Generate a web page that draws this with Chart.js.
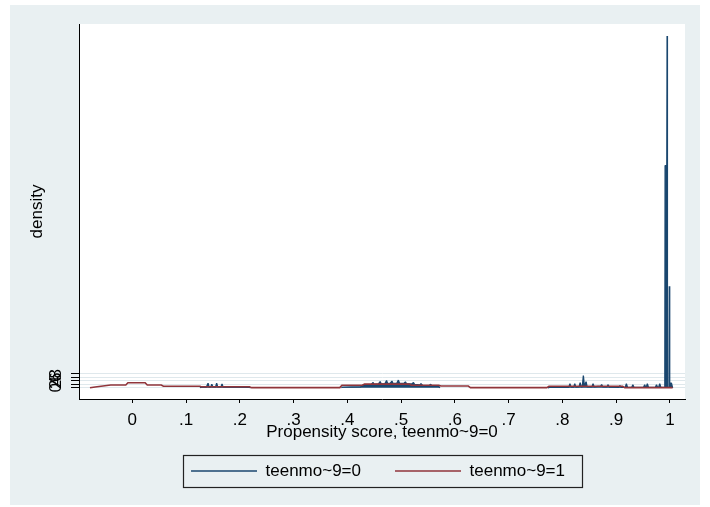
<!DOCTYPE html>
<html>
<head>
<meta charset="utf-8">
<script src="https://cdn.jsdelivr.net/npm/chart.js@4.4.1/dist/chart.umd.min.js"></script>
<style>
  html, body { margin: 0; padding: 0; background: #ffffff; }
  #wrap { width: 710px; height: 507px; position: relative; }
</style>
</head>
<body>
<div id="wrap"><canvas id="c" width="710" height="507"></canvas></div>
<script>
// Series names and axis tick definitions
const seriesNames = ['teenmo~9=0', 'teenmo~9=1'];
const xTickValues = [0, 0.1, 0.2, 0.3, 0.4, 0.5, 0.6, 0.7, 0.8, 0.9, 1];
const xTickLabels = ['0', '.1', '.2', '.3', '.4', '.5', '.6', '.7', '.8', '.9', '1'];
const yTickValues = [0, 2, 4, 6, 8];
const yTickLabels = ['0', '2', '4', '6', '8'];

// Density of the propensity score, teenmo~9=0 group (null = break in the curve)
const blueX = [
  0.126, 0.128, 0.138, 0.141, 0.143, 0.146, 0.148, 0.150, 0.155, 0.157, 0.159, 0.165, 0.167, 0.169, 0.190, 0.218, 0.220,
  0.300,
  0.389, 0.391, 0.425, 0.430, 0.445, 0.448, 0.450, 0.458, 0.461, 0.463, 0.470, 0.473, 0.475, 0.480, 0.483, 0.485,
  0.492, 0.495, 0.497, 0.505, 0.508, 0.510, 0.520, 0.523, 0.525, 0.535, 0.537, 0.540, 0.552, 0.555, 0.557, 0.570, 0.572,
  0.670,
  0.773, 0.776, 0.812, 0.814, 0.816, 0.821, 0.823, 0.825, 0.831, 0.833, 0.835, 0.837, 0.839, 0.841, 0.842, 0.844,
  0.846, 0.855, 0.857, 0.859, 0.866, 0.871, 0.873, 0.875, 0.883, 0.885, 0.887, 0.905, 0.907, 0.909, 0.917, 0.919,
  0.921, 0.929, 0.931, 0.933, 0.951, 0.953, 0.955, 0.956, 0.958, 0.960, 0.973, 0.975, 0.977, 0.979, 0.981, 0.983,
  0.9905, 0.9910, 0.9942, 0.9947, 0.9953, 0.9982, 0.9988, 0.9994, 0.9997, 1.0028, 1.0050
];
const blueY = [
  0, 0.4, 0.4, 2.6, 0.4, 0.5, 2.1, 0.5, 0.5, 2.7, 0.5, 0.5, 2.2, 0.4, 0.4, 0.3, 0,
  null,
  0, 0.4, 0.6, 1.8, 2.0, 3.0, 2.0, 2.2, 3.6, 2.3, 2.4, 4.2, 2.4, 2.6, 3.8, 2.5,
  2.6, 4.4, 2.6, 2.5, 3.4, 2.4, 2.2, 3.0, 2.0, 1.6, 2.4, 1.4, 1.2, 2.0, 1.2, 1.0, 0,
  null,
  0, 0.3, 0.3, 2.3, 0.4, 0.4, 2.3, 0.4, 0.5, 3.0, 0.6, 0.6, 7.0, 0.6, 0.6, 3.5,
  0.5, 0.5, 2.3, 0.5, 0.8, 0.8, 1.8, 0.6, 0.5, 1.8, 0.4, 0.3, 1.2, 0.3, 0.3, 2.3,
  0.3, 0.3, 1.8, 0.3, 0.3, 1.8, 0.3, 0.3, 2.3, 0.3, 0.3, 1.8, 0.3, 0.3, 2.3, 0.3,
  0.3, 127, 127, 201, 0.3, 0.3, 58, 0.3, 2.6, 2.6, 0
];

// Density of the propensity score, teenmo~9=1 group
const redX = [
  -0.0786, -0.069, -0.040, -0.012, -0.008, 0.024, 0.028, 0.054, 0.058, 0.126, 0.128, 0.218, 0.222,
  0.386, 0.390, 0.428, 0.432, 0.515, 0.519, 0.570, 0.574, 0.625, 0.629, 0.771, 0.775, 0.912, 0.916, 1.005
];
const redY = [
  0, 0.5, 1.6, 1.6, 2.9, 2.9, 1.6, 1.6, 0.9, 0.9, 0.6, 0.6, 0.1,
  0.1, 1.5, 1.5, 2.1, 2.1, 1.5, 1.5, 1.0, 1.0, 0.1, 0.1, 0.9, 0.9, 0.1, 0.1
];

const NAVY = '#1a476f';
const MAROON = '#90353b';
const FONT = '"Liberation Sans", Arial, Helvetica, sans-serif';
const PANEL = '#e9f0f2';
const LEGEND_ROW_Y = 471;

Chart.defaults.font.family = FONT;
Chart.defaults.font.size = 17;
Chart.defaults.color = '#000';

const toPoints = (xs, ys) => xs.map((x, i) => ({ x: x, y: ys[i] }));
const labelFor = (vals, labels) => (v) => {
  const i = vals.findIndex(t => Math.abs(t - v) < 1e-9);
  return i >= 0 ? labels[i] : '';
};

// Graph region, plot region and the framed legend
const stataLook = {
  id: 'stataLook',
  beforeDraw(chart) {
    const { ctx, chartArea: ca } = chart;
    ctx.save();
    ctx.fillStyle = '#ffffff';
    ctx.fillRect(0, 0, chart.width, chart.height);
    ctx.fillStyle = PANEL;
    ctx.fillRect(10, 5, chart.width - 20, chart.height - 7);
    ctx.fillStyle = '#ffffff';
    ctx.fillRect(ca.left, ca.top, ca.right - ca.left, ca.bottom - ca.top);
    ctx.restore();
  },
  afterLayout(chart) {
    const lg = chart.legend;
    const ca = chart.chartArea;
    const p = lg.options.labels.padding;
    const fs = lg.options.labels.font.size;
    const h = lg.height;
    lg.left = ca.left - 8;
    lg.right = ca.right;
    lg.top = LEGEND_ROW_Y - p - fs / 2;
    lg.bottom = lg.top + h;
  },
  afterDraw(chart) {
    const lg = chart.legend;
    const p = lg.options.labels.padding;
    const fs = lg.options.labels.font.size;
    const lw = lg.lineWidths[0];
    const startX = (lg.left + p + lg.right - lw) / 2;
    const itemTop = lg.top + p;
    const { ctx } = chart;
    ctx.save();
    ctx.strokeStyle = '#222';
    ctx.lineWidth = 1.2;
    ctx.strokeRect(Math.round(startX - 8) + 0.5, Math.round(itemTop - 7.5) + 0.5,
                   Math.round(lw - p + 25), Math.round(fs + 15));
    ctx.restore();
  }
};

new Chart(document.getElementById('c'), {
  type: 'line',
  data: {
    datasets: [
      {
        label: seriesNames[0],
        data: toPoints(blueX, blueY),
        borderColor: NAVY,
        backgroundColor: NAVY,
        pointBorderColor: NAVY,
        pointBorderWidth: 1.5,
        borderWidth: 1.3,
        borderJoinStyle: 'bevel',
        fill: 'origin',
        spanGaps: false,
        order: 1
      },
      {
        label: seriesNames[1],
        data: toPoints(redX, redY),
        borderColor: MAROON,
        backgroundColor: MAROON,
        pointBorderColor: MAROON,
        pointBorderWidth: 1.5,
        borderWidth: 1.6,
        fill: false,
        order: 0
      }
    ]
  },
  options: {
    responsive: false,
    animation: false,
    devicePixelRatio: 1,
    layout: { padding: { left: 10, right: 25, top: 24, bottom: 0 } },
    elements: { point: { radius: 0, hoverRadius: 0 }, line: { tension: 0 } },
    plugins: {
      tooltip: { enabled: false },
      legend: {
        position: 'bottom',
        labels: {
          usePointStyle: true,
          pointStyle: 'line',
          pointStyleWidth: 66,
          padding: 34,
          color: '#000',
          font: { size: 17 },
          sort: (a, b) => a.datasetIndex - b.datasetIndex
        }
      }
    },
    scales: {
      x: {
        type: 'linear',
        min: -0.099,
        max: 1.028,
        afterBuildTicks: s => { s.ticks = xTickValues.map(v => ({ value: v })); },
        afterFit: s => { s.height = 47; },
        ticks: {
          autoSkip: false, maxRotation: 0, minRotation: 0, padding: 7,
          color: '#000', font: { size: 17 },
          callback: labelFor(xTickValues, xTickLabels)
        },
        grid: { drawOnChartArea: false, tickLength: 4, tickColor: '#000', tickWidth: 1 },
        border: { color: '#000', width: 1 },
        title: {
          display: true, text: 'Propensity score, teenmo~9=0', color: '#000',
          font: { size: 17 }, padding: { top: 0, bottom: 3 }
        }
      },
      y: {
        type: 'linear',
        min: -6.4,
        max: 207.9,
        afterBuildTicks: s => { s.ticks = yTickValues.map(v => ({ value: v })); },
        afterFit: s => { s.width = 69; },
        ticks: {
          autoSkip: false, minRotation: 90, maxRotation: 90, crossAlign: 'center', padding: 10,
          color: '#000', font: { size: 17 },
          callback: labelFor(yTickValues, yTickLabels)
        },
        grid: { color: '#dfe8ec', lineWidth: 1, tickColor: '#000', tickLength: 8, tickWidth: 1 },
        border: { color: '#000', width: 1 },
        title: {
          display: true, text: 'density', color: '#000',
          font: { size: 17 }, padding: { top: 17, bottom: 0 }
        }
      }
    }
  },
  plugins: [stataLook]
});
</script>
</body>
</html>
